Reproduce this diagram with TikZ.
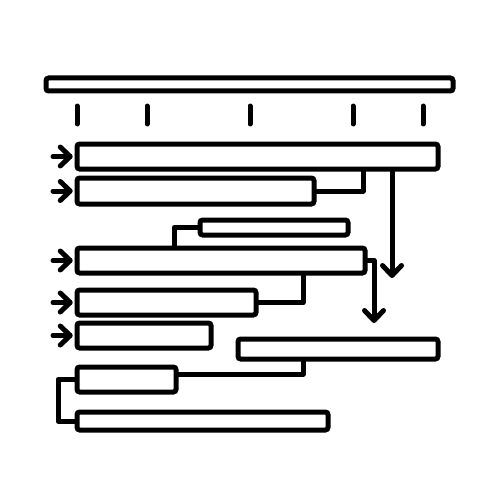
\documentclass[tikz,border=0pt]{standalone}
\usetikzlibrary{arrows.meta,fit}

\tikzstyle{bar} = [rectangle, draw=black, line width=0.1cm, rounded corners=1.5pt, inner sep=0pt, fill=white]
\tikzstyle{link} = [line width=0.1cm, line cap=round, line join=round]
\tikzstyle{flow} = [line width=0.1cm, line cap=round, line join=round, -{Straight Barb[length=0.2cm, width=0.38cm, line cap=round, line join=round]}]
\tikzstyle{tick} = [line width=0.1cm, line cap=round]

\begin{document}
\begin{tikzpicture}[x=0.02cm, y=-0.02cm]
	\useasboundingbox (0,0) rectangle (500,500);

	\node (timeline) [bar, fit={(46,78) (453,91)}] {};
	\foreach \x in {77,147,250,353,423}
		\draw [tick] (\x,106) -- (\x,124);

	\node (bar1) [bar, fit={(77,144) (438,169)}] {};
	\node (bar2) [bar, fit={(77,178) (314,204)}] {};
	\node (bar3) [bar, fit={(200,220) (348,235)}] {};
	\node (bar4) [bar, fit={(77,248) (365,273)}] {};
	\node (bar5) [bar, fit={(77,290) (256,315)}] {};
	\node (bar6) [bar, fit={(77,323) (211,348)}] {};
	\node (bar7) [bar, fit={(238,339) (438,359)}] {};
	\node (bar8) [bar, fit={(77,367) (176,392)}] {};
	\node (bar9) [bar, fit={(77,412) (328,430)}] {};

	\coordinate (src) at (53,0);
	\coordinate (j1) at (363,0);
	\coordinate (j2) at (174,0);
	\coordinate (j3) at (303,0);
	\coordinate (j4) at (303,374);
	\coordinate (j5) at (58,0);
	\coordinate (d1) at (392,278);
	\coordinate (d2) at (374,323);

	\foreach \b in {bar1,bar2,bar4,bar5,bar6}
		\draw [flow] (\b.west -| src) -- ([xshift=-1pt]\b.west);

	\draw [link] (bar2.east) -| (j1 |- bar1.south);
	\draw [flow] (d1 |- bar1.south) -- (d1);
	\draw [link] (bar3.west) -| (j2 |- bar4.north);
	\draw [flow] (bar4.east) -| (d2);
	\draw [link] (bar5.east) -| (j3 |- bar4.south);
	\draw [link] (bar8.east |- j4) -| (j4 |- bar7.south);
	\draw [link] (bar8.west) -| (j5 |- bar9.west) -- (bar9.west);

\end{tikzpicture}
\end{document}
